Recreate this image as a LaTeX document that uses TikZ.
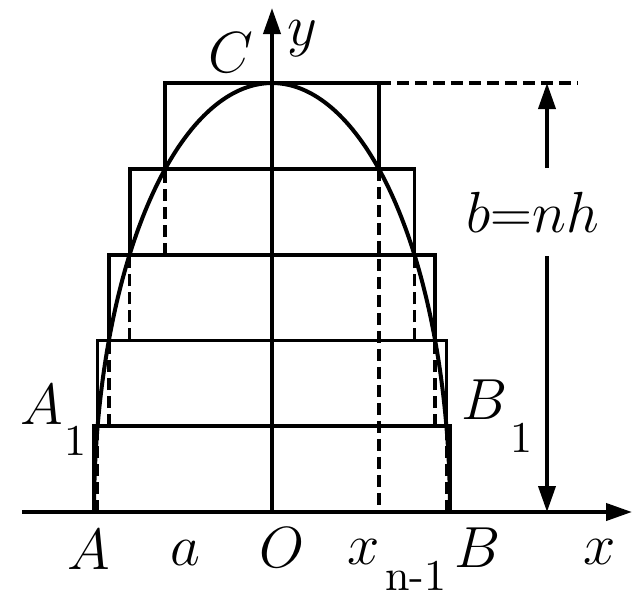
\RequirePackage{fix-cm}
\documentclass[tikz,border=0pt]{standalone}
\usepackage{fontspec}
\usetikzlibrary{arrows.meta}
\begin{document}
\begin{tikzpicture}[x=1pt,y=-1pt,line width=3.8pt,
  lbl/.style={font=\fontsize{58}{60}\selectfont,inner sep=0pt},
  sub/.style={font=\normalsize,scale=4.4,inner sep=0pt,anchor=base},
  dsh/.style={line width=3.5pt,dash pattern=on 12pt off 6pt},
  tip/.style={-{Triangle[length=26pt,width=17pt]}}]
\useasboundingbox (0,0) rectangle (633,600);
% strips (circumscribed rectangles)
\foreach \k in {0,...,4}{
  \pgfmathsetmacro\w{178*sqrt(1-(\k/5)^2)}
  \draw ({272-\w},{512-\k*85.8}) rectangle ({272+\w},{512-(\k+1)*85.8});
}
% dashed inner edges
\foreach \k in {0,...,2}{
  \pgfmathsetmacro\w{178*sqrt(1-((\k+1)/5)^2)}
  \draw[dsh] ({272-\w},{512-\k*85.8}) -- ({272-\w},{512-(\k+1)*85.8});
  \draw[dsh] ({272+\w},{512-\k*85.8}) -- ({272+\w},{512-(\k+1)*85.8});
}
\draw[dsh] ({272-0.6*178},{512-3*85.8}) -- ({272-0.6*178},{512-4*85.8});
\coordinate (xn) at ({272+0.6*178},512);
\coordinate (xt) at ({272+0.6*178},{512-4*85.8});
\draw[dsh] (xt) -- (xn);
\coordinate (tr) at ({272+0.6*178},83);
\coordinate (te) at (577,83);
\draw[dsh] (tr) -- (te);
% ellipse
\draw[line width=4pt] plot[domain=0:180,samples=150,smooth] ({272+178*cos(\x)},{512-429*sin(\x)});
% axes
\coordinate (xs) at (22,512);
\coordinate (xe) at (632,512);
\coordinate (o) at (272,512);
\coordinate (ye) at (272,8);
\draw[tip,line width=4pt] (xs) -- (xe);
\draw[tip,line width=4pt] (o) -- (ye);
% dimension b = nh
\coordinate (d1) at (547,168);
\coordinate (d2) at (547,83);
\coordinate (d3) at (547,256);
\coordinate (d4) at (547,512);
\draw[tip] (d1) -- (d2);
\draw[tip] (d3) -- (d4);
\node[lbl] (bnh) at (533,212) {$b{=}nh$};
% labels
\node[lbl] (C) at (231,53) {$C$};
\node[lbl] (y) at (302,39) {$y$};
\node[lbl] (A) at (89,550) {$A$};
\node[lbl] (a) at (185,553) {$a$};
\node[lbl] (O) at (282,548) {$O$};
\node[lbl] (xl) at (364,552) {$x$};
\node[sub] (nm1) at (416,590) {n-1};
\node[lbl] (B) at (478,548) {$B$};
\node[lbl] (x) at (600,552) {$x$};
\node[lbl] (A1) at (42,405) {$A$};
\node[sub] (A1s) at (75,455) {1};
\node[lbl] (B1) at (485,400) {$B$};
\node[sub] (B1s) at (521,452) {1};
\end{tikzpicture}
\end{document}
